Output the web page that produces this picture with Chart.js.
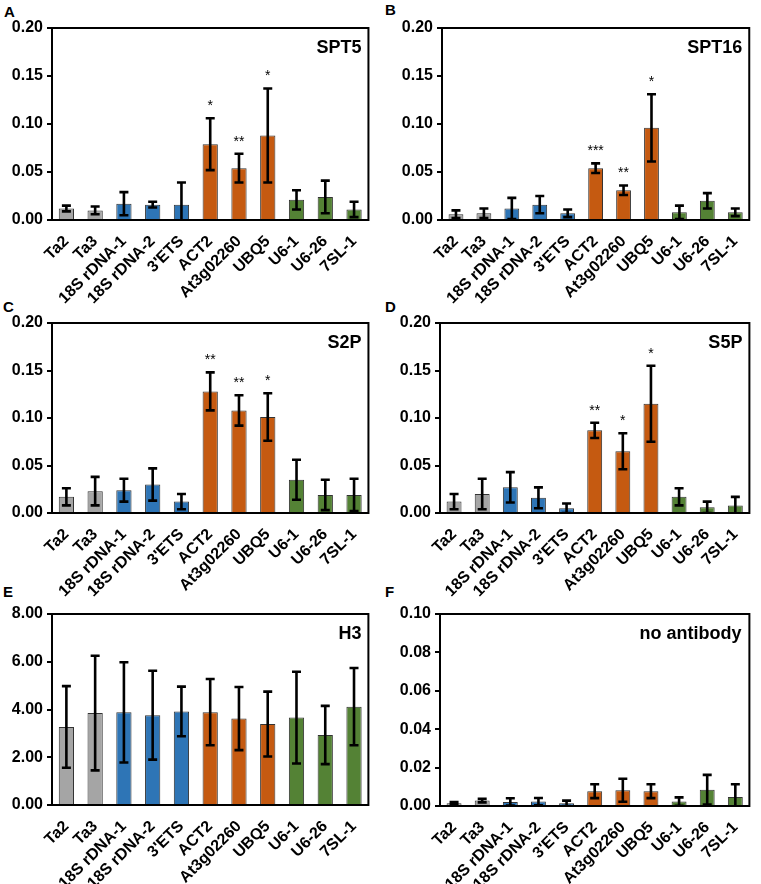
<!DOCTYPE html>
<html>
<head>
<meta charset="utf-8">
<script src="https://cdn.jsdelivr.net/npm/chart.js@4.4.0/dist/chart.umd.min.js"></script>
<style>
  body { margin: 0; background: #fff; width: 761px; height: 884px; position: relative; overflow: hidden; }
  canvas { position: absolute; }
  .letter { position: absolute; font: bold 15px "Liberation Sans", Arial, sans-serif; color: #000; }
</style>
</head>
<body>
<div class="letter" style="left:4px;top:3px">A</div>
<div class="letter" style="left:385px;top:1px">B</div>
<div class="letter" style="left:3px;top:298px">C</div>
<div class="letter" style="left:385px;top:298px">D</div>
<div class="letter" style="left:3px;top:583px">E</div>
<div class="letter" style="left:385px;top:583px">F</div>

<canvas id="chartA" width="380" height="320" style="left:0;top:0"></canvas>
<canvas id="chartB" width="381" height="320" style="left:380px;top:0"></canvas>
<canvas id="chartC" width="380" height="320" style="left:0;top:290px"></canvas>
<canvas id="chartD" width="381" height="320" style="left:380px;top:290px"></canvas>
<canvas id="chartE" width="380" height="304" style="left:0;top:580px"></canvas>
<canvas id="chartF" width="381" height="304" style="left:380px;top:580px"></canvas>

<script>
// loci on the x axis
const genes = ['Ta2', 'Ta3', '18S rDNA-1', '18S rDNA-2', "3'ETS", 'ACT2', 'At3g02260', 'UBQ5', 'U6-1', 'U6-26', '7SL-1'];

// A - SPT5
const spt5 = [0.012, 0.010, 0.017, 0.016, 0.016, 0.079, 0.054, 0.088, 0.021, 0.024, 0.011];
const spt5Err = [0.003, 0.004, 0.012, 0.003, 0.023, 0.027, 0.015, 0.049, 0.010, 0.017, 0.008];
const spt5Stars = ['', '', '', '', '', '*', '**', '*', '', '', ''];

// B - SPT16
const spt16 = [0.006, 0.007, 0.012, 0.016, 0.007, 0.054, 0.031, 0.096, 0.008, 0.020, 0.008];
const spt16Err = [0.004, 0.005, 0.011, 0.009, 0.004, 0.005, 0.005, 0.035, 0.007, 0.008, 0.004];
const spt16Stars = ['', '', '', '', '', '***', '**', '*', '', '', ''];

// C - S2P
const s2p = [0.017, 0.023, 0.024, 0.030, 0.012, 0.128, 0.108, 0.101, 0.035, 0.019, 0.019];
const s2pErr = [0.009, 0.015, 0.012, 0.017, 0.008, 0.020, 0.016, 0.025, 0.021, 0.016, 0.017];
const s2pStars = ['', '', '', '', '', '**', '**', '*', '', '', ''];

// D - S5P
const s5p = [0.012, 0.020, 0.027, 0.016, 0.005, 0.087, 0.065, 0.115, 0.017, 0.006, 0.008];
const s5pErr = [0.008, 0.016, 0.016, 0.011, 0.005, 0.008, 0.019, 0.040, 0.009, 0.006, 0.009];
const s5pStars = ['', '', '', '', '', '**', '*', '*', '', '', ''];

// E - H3
const h3 = [3.27, 3.85, 3.88, 3.76, 3.92, 3.89, 3.62, 3.39, 3.66, 2.93, 4.12];
const h3Err = [1.71, 2.40, 2.10, 1.86, 1.04, 1.39, 1.32, 1.36, 1.92, 1.22, 1.62];

// F - no antibody
const noAb = [0.0014, 0.0028, 0.0021, 0.0023, 0.0014, 0.0077, 0.0082, 0.0077, 0.0023, 0.0085, 0.0047];
const noAbErr = [0.0007, 0.0009, 0.0019, 0.0019, 0.0014, 0.0036, 0.0060, 0.0036, 0.0022, 0.0077, 0.0066];

const GRAY = '#a5a5a5', BLUE = '#2e75b6', ORANGE = '#c55a11', GREEN = '#548235';
const barColors = [GRAY, GRAY, BLUE, BLUE, BLUE, ORANGE, ORANGE, ORANGE, GREEN, GREEN, GREEN];

const FONT = '"Liberation Sans", Arial, sans-serif';

// error bars, stars, frame and the name of the antibody
const extras = {
  id: 'extras',
  afterDatasetsDraw(chart, args, opts) {
    const { ctx, chartArea: a } = chart;
    const y = chart.scales.y;
    const values = chart.data.datasets[0].data;
    const bars = chart.getDatasetMeta(0).data;
    ctx.save();
    ctx.beginPath();
    ctx.rect(a.left, 0, a.right - a.left, a.bottom);
    ctx.clip();
    ctx.strokeStyle = '#000';
    ctx.lineWidth = 2.6;
    bars.forEach((bar, i) => {
      const x = bar.x;
      const top = y.getPixelForValue(values[i] + opts.errors[i]);
      const low = y.getPixelForValue(values[i] - opts.errors[i]);
      ctx.beginPath();
      ctx.moveTo(x, top); ctx.lineTo(x, low);
      ctx.moveTo(x - 4.5, top); ctx.lineTo(x + 4.5, top);
      ctx.moveTo(x - 4.5, low); ctx.lineTo(x + 4.5, low);
      ctx.stroke();
    });
    ctx.restore();

    ctx.save();
    ctx.fillStyle = '#000';
    ctx.font = '14px ' + FONT;
    ctx.textAlign = 'center';
    ctx.textBaseline = 'alphabetic';
    (opts.stars || []).forEach((s, i) => {
      if (!s) return;
      const top = y.getPixelForValue(values[i] + opts.errors[i]);
      ctx.fillText(s, bars[i].x, top - 8);
    });
    ctx.restore();
  },
  afterDraw(chart, args, opts) {
    const { ctx, chartArea: a } = chart;
    ctx.save();
    ctx.strokeStyle = '#000';
    ctx.lineWidth = 2;
    ctx.strokeRect(a.left, a.top, a.right - a.left, a.bottom - a.top);
    ctx.fillStyle = '#000';
    ctx.font = 'bold 18px ' + FONT;
    ctx.textAlign = 'right';
    ctx.fillText(opts.title, a.right - opts.titleInset, a.top + 25);
    ctx.restore();
  }
};

function makePanel(id, values, errors, stars, title, yMax, yStep, area, titleInset) {
  const canvas = document.getElementById(id);
  const W = canvas.width, H = canvas.height;
  return new Chart(canvas, {
    type: 'bar',
    data: {
      labels: genes,
      datasets: [{
        data: values,
        backgroundColor: barColors,
        borderColor: '#333',
        borderWidth: 1,
        barPercentage: 0.53,
        categoryPercentage: 1
      }]
    },
    options: {
      responsive: false,
      animation: false,
      layout: { padding: { top: area.t, right: W - area.r, left: 0, bottom: 0 } },
      plugins: {
        legend: { display: false },
        tooltip: { enabled: false },
        extras: { errors: errors, stars: stars, title: title, titleInset: titleInset }
      },
      scales: {
        x: {
          grid: { display: false, drawTicks: false },
          border: { display: false },
          ticks: {
            autoSkip: false,
            minRotation: 45,
            maxRotation: 45,
            padding: 12,
            color: '#000',
            font: { family: FONT, size: 16, weight: 'bold' }
          },
          afterFit(scale) { scale.height = H - area.b; }
        },
        y: {
          min: 0,
          max: yMax,
          grid: { drawOnChartArea: false, drawTicks: true, tickLength: 5, color: '#000', lineWidth: 2 },
          border: { display: true, color: '#000', width: 2 },
          ticks: {
            stepSize: yStep,
            padding: 4,
            color: '#000',
            font: { family: FONT, size: 16, weight: 'bold' },
            callback: (v) => v.toFixed(2)
          },
          afterFit(scale) { scale.width = area.l; }
        }
      }
    },
    plugins: [extras]
  });
}

makePanel('chartA', spt5, spt5Err, spt5Stars, 'SPT5', 0.2, 0.05, { l: 52, r: 372, t: 28, b: 220 }, 7);
makePanel('chartB', spt16, spt16Err, spt16Stars, 'SPT16', 0.2, 0.05, { l: 62, r: 378, t: 28, b: 220 }, 7);
makePanel('chartC', s2p, s2pErr, s2pStars, 'S2P', 0.2, 0.05, { l: 52, r: 372, t: 33, b: 223 }, 7);
makePanel('chartD', s5p, s5pErr, s5pStars, 'S5P', 0.2, 0.05, { l: 60, r: 379, t: 33, b: 223 }, 7);
makePanel('chartE', h3, h3Err, [], 'H3', 8, 2, { l: 52, r: 371, t: 34, b: 225 }, 7);
makePanel('chartF', noAb, noAbErr, [], 'no antibody', 0.1, 0.02, { l: 60, r: 379, t: 34, b: 226 }, 8);
</script>
</body>
</html>
